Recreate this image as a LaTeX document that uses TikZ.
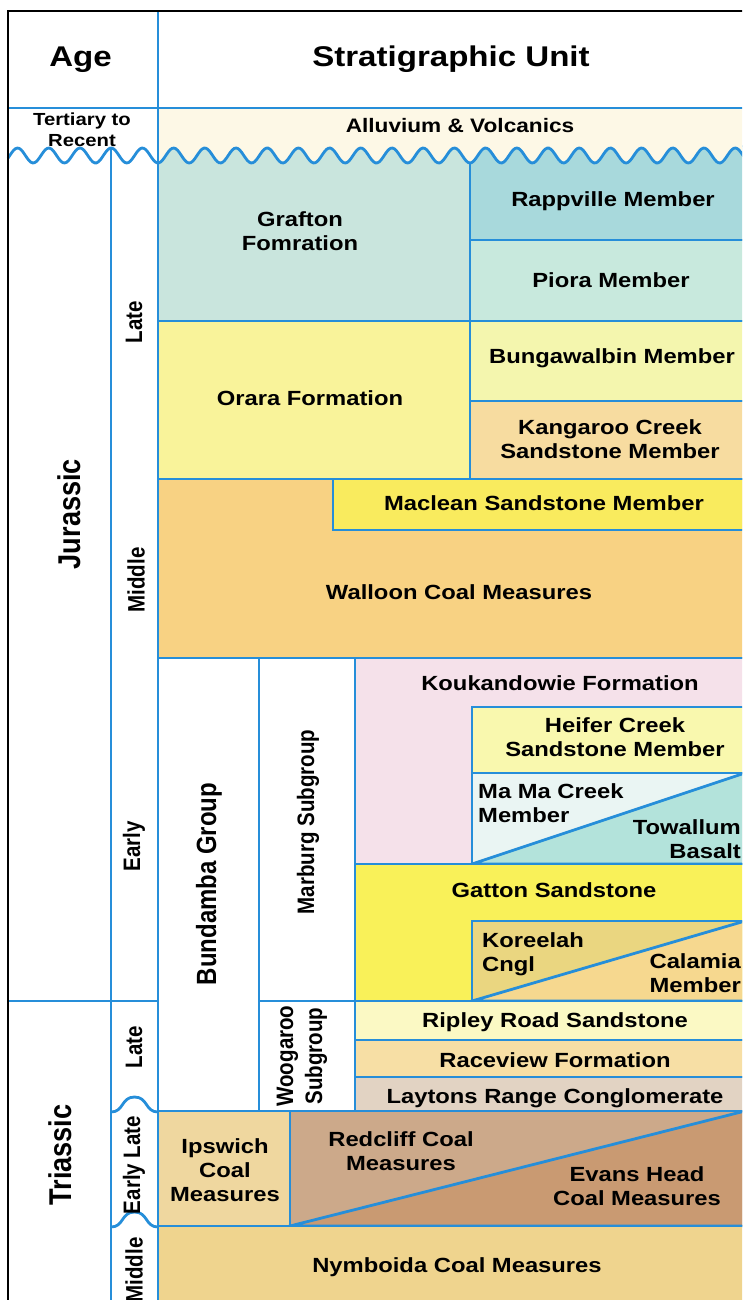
\documentclass[tikz,border=0pt]{standalone}
\usepackage{fontspec}
\setmainfont{Liberation Sans}
\newfontfamily\widefont{Liberation Sans}[FakeStretch=1.16]
\newfontfamily\tallfont{Liberation Sans}[FakeStretch=0.862]

\definecolor{chartblue}{HTML}{268ED9}
\definecolor{alluvium}{HTML}{FDF8E6}
\definecolor{grafton}{HTML}{C9E5DD}
\definecolor{rappville}{HTML}{A8D9DC}
\definecolor{piora}{HTML}{C8E9DD}
\definecolor{orara}{HTML}{F9F39A}
\definecolor{bungawalbin}{HTML}{F4F6AE}
\definecolor{kangaroo}{HTML}{F7DCA0}
\definecolor{maclean}{HTML}{F9EB5E}
\definecolor{walloon}{HTML}{F8D283}
\definecolor{koukandowie}{HTML}{F5E1EA}
\definecolor{heifer}{HTML}{F9F8AE}
\definecolor{mamacreek}{HTML}{EAF5F3}
\definecolor{towallum}{HTML}{B3E3DB}
\definecolor{gatton}{HTML}{F9F159}
\definecolor{koreelah}{HTML}{EAD680}
\definecolor{calamia}{HTML}{F6D88F}
\definecolor{ripley}{HTML}{FBF9C4}
\definecolor{raceview}{HTML}{F7DFA5}
\definecolor{laytons}{HTML}{E2D3C3}
\definecolor{ipswich}{HTML}{EFD79F}
\definecolor{redcliff}{HTML}{CCA98A}
\definecolor{evanshead}{HTML}{C99A72}
\definecolor{nymboida}{HTML}{EFD48E}

\tikzset{
  layer/.style={draw=chartblue, line width=2.8pt},
  rule/.style={draw=chartblue, line width=2.8pt},
  frame/.style={draw=black, line width=1.6pt},
  headtext/.style={font=\widefont\bfseries\fontsize{28.5}{32}\selectfont, inner sep=0pt, anchor=base},
  unittext/.style={font=\widefont\bfseries\fontsize{20.5}{24}\selectfont, align=center, inner sep=0pt},
  agetext/.style={font=\tallfont\bfseries\fontsize{23.8}{29}\selectfont, rotate=90, align=center, inner sep=0pt},
  periodtext/.style={font=\tallfont\bfseries\fontsize{31.5}{34}\selectfont, rotate=90, inner sep=0pt},
  declare function={wave(\t)=155.5+7.5*cos((\t-158)*11.538);}
}

\begin{document}
\begin{tikzpicture}[x=1pt, y=-1pt]
\useasboundingbox (0,0) rectangle (742,1300);
\clip (0,0) rectangle (742,1300);

\path[layer, fill=grafton] (158,146) rectangle (470,321);
\path[layer, fill=rappville] (470,146) rectangle (760,240);
\path[layer, fill=piora] (470,240) rectangle (760,321);
\path[layer, fill=orara] (158,321) rectangle (470,479);
\path[layer, fill=bungawalbin] (470,321) rectangle (760,401);
\path[layer, fill=kangaroo] (470,401) rectangle (760,479);
\path[layer, fill=walloon] (158,479) rectangle (760,658);
\path[layer, fill=maclean] (333,479) rectangle (760,530);
\path[layer, fill=white] (158,658) rectangle (259,1111);
\path[layer, fill=white] (259,658) rectangle (355,1001);
\path[layer, fill=white] (259,1001) rectangle (355,1111);
\path[layer, fill=koukandowie] (355,658) rectangle (760,864);
\path[layer, fill=heifer] (472,707) rectangle (760,773);
\path[layer, fill=mamacreek] (472,773) rectangle (760,864);
\path[layer, fill=towallum] (472,864) -- (745,773) -- (760,773) -- (760,864) -- cycle;
\path[layer, fill=gatton] (355,864) rectangle (760,1001);
\path[layer, fill=koreelah] (472,921) rectangle (760,1001);
\path[layer, fill=calamia] (472,1001) -- (745,921) -- (760,921) -- (760,1001) -- cycle;
\path[layer, fill=ripley] (355,1001) rectangle (760,1040);
\path[layer, fill=raceview] (355,1040) rectangle (760,1077);
\path[layer, fill=laytons] (355,1077) rectangle (760,1111);
\path[layer, fill=ipswich] (158,1111) rectangle (290,1226);
\path[layer, fill=redcliff] (290,1111) rectangle (760,1226);
\path[layer, fill=evanshead] (290,1226) -- (745,1111) -- (760,1111) -- (760,1226) -- cycle;
\path[layer, fill=nymboida] (158,1226) rectangle (760,1320);

\fill[alluvium] (158,108) -- (760,108) -- plot[domain=760:158, samples=200] (\x, {wave(\x)}) -- cycle;
\draw[rule] plot[domain=8:760, samples=400] (\x, {wave(\x)});

\draw[rule] (8,108) -- (760,108);
\draw[rule] (158,11) -- (158,1300);
\draw[rule] (111,148) -- (111,1300);
\draw[rule] (8,1001) -- (158,1001);
\draw[rule] (111,1112) .. controls (124,1112) and (121,1097) .. (134.5,1097) .. controls (148,1097) and (145,1112) .. (158,1112);
\draw[rule] (111,1227) .. controls (124,1227) and (121,1212) .. (134.5,1212) .. controls (148,1212) and (145,1227) .. (158,1227);
\draw[frame] (8,1300) -- (8,11) -- (760,11);

\path (80.5,67) node[headtext] (age) {Age};
\path (451,67) node[headtext] (stratunit) {Stratigraphic Unit};
\path (82,129.5) node[unittext, font=\widefont\bfseries\fontsize{17.5}{21}\selectfont] (tertiary) {Tertiary to\\Recent};
\path (460,133) node[unittext, anchor=base, font=\widefont\bfseries\fontsize{19.5}{24}\selectfont] (alluvium) {Alluvium \& Volcanics};

\path (69,514) node[periodtext] (jurassic) {Jurassic};
\path (60,1155) node[periodtext] (triassic) {Triassic};
\path (134,322) node[agetext] (jlate) {Late};
\path (136,580) node[agetext] (jmiddle) {Middle};
\path (134,846) node[agetext] (jearly) {Early};
\path (134,1047) node[agetext] (tlate) {Late};
\path (134,1165) node[agetext] (tearlylate) {Early Late};
\path (134,1270) node[agetext] (tmiddle) {Middle};
\path (209,884) node[agetext, font=\tallfont\bfseries\fontsize{27.8}{32}\selectfont] (bundamba) {Bundamba Group};
\path (308,822) node[agetext] (marburg) {Marburg Subgroup};
\path (302,1056) node[agetext] (woogaroo) {Woogaroo\\Subgroup};

\path (300,231) node[unittext] (grafton) {Grafton\\Fomration};
\path (613,207) node[unittext, anchor=base] (rappville) {Rappville Member};
\path (611,287) node[unittext, anchor=base] (piora) {Piora Member};
\path (310,405) node[unittext, anchor=base] (orara) {Orara Formation};
\path (612,363) node[unittext, anchor=base] (bungawalbin) {Bungawalbin Member};
\path (610,439) node[unittext] (kangaroo) {Kangaroo Creek\\Sandstone Member};
\path (544,510) node[unittext, anchor=base] (maclean) {Maclean Sandstone Member};
\path (459,599) node[unittext, anchor=base] (walloon) {Walloon Coal Measures};
\path (560,690) node[unittext, anchor=base] (koukandowie) {Koukandowie Formation};
\path (615,737) node[unittext] (heifer) {Heifer Creek\\Sandstone Member};
\path (478,803) node[unittext, align=left, anchor=west] (mamacreek) {Ma Ma Creek\\Member};
\path (741,839) node[unittext, align=right, anchor=east] (towallum) {Towallum\\Basalt};
\path (554,897) node[unittext, anchor=base] (gatton) {Gatton Sandstone};
\path (482,954) node[unittext, align=left, anchor=west] (koreelah) {Koreelah\\Cngl};
\path (741,973.5) node[unittext, align=right, anchor=east] (calamia) {Calamia\\Member};
\path (555,1027) node[unittext, anchor=base] (ripley) {Ripley Road Sandstone};
\path (555,1067) node[unittext, anchor=base] (raceview) {Raceview Formation};
\path (555,1103) node[unittext, anchor=base] (laytons) {Laytons Range Conglomerate};
\path (225,1170) node[unittext] (ipswich) {Ipswich\\Coal\\Measures};
\path (401,1151) node[unittext] (redcliff) {Redcliff Coal\\Measures};
\path (637,1186) node[unittext] (evanshead) {Evans Head\\Coal Measures};
\path (457,1272) node[unittext, anchor=base] (nymboida) {Nymboida Coal Measures};
\end{tikzpicture}
\end{document}
